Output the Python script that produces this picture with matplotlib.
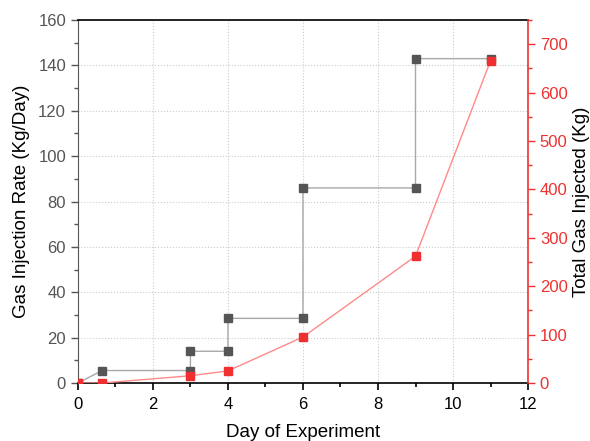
import matplotlib.pyplot as plt
from matplotlib.ticker import MultipleLocator

plt.rcParams['font.family'] = ['Liberation Sans', 'DejaVu Sans']

# Injection rate (step profile)
rate_day = [0, 0.65, 3, 3, 4, 4, 6, 6, 9, 9, 11]
rate = [0, 5.5, 5.5, 14, 14, 28.5, 28.5, 86, 86, 143, 143]

# Cumulative gas injected
total_day = [0, 0.65, 3, 4, 6, 9, 11]
total = [0, 0, 15, 25, 95, 262, 666]

red = '#f03030'

fig = plt.figure(figsize=(5.9, 4.41), dpi=100)
ax = fig.add_axes([0.132, 0.1315, 0.763, 0.823])
ax2 = ax.twinx()

ax.plot(rate_day, rate, '-', color='#a8a8a8', lw=1, zorder=3)
ax.plot(rate_day, rate, 's', color='#555555', ms=6, zorder=4)
ax2.plot(total_day, total, '-', color='#ff8a8a', lw=1, zorder=3)
ax2.plot(total_day, total, 's', color=red, ms=6, zorder=4)

ax.set_xlim(0, 12)
ax.set_ylim(0, 160)
ax2.set_ylim(0, 750)

ax.xaxis.set_major_locator(MultipleLocator(2))
ax.xaxis.set_minor_locator(MultipleLocator(1))
ax.yaxis.set_major_locator(MultipleLocator(20))
ax.yaxis.set_minor_locator(MultipleLocator(10))
ax2.yaxis.set_major_locator(MultipleLocator(100))
ax2.yaxis.set_minor_locator(MultipleLocator(50))

ax.grid(True, which='major', linestyle=':', color='#cccccc', lw=0.8)
ax.set_axisbelow(True)

ax.tick_params(axis='x', which='both', direction='out', colors='black', labelsize=12, pad=5)
ax.tick_params(axis='x', which='major', length=5, width=1.2)
ax.tick_params(axis='x', which='minor', length=3, width=1.2)
ax.tick_params(axis='y', which='both', direction='out', colors='#555555', labelsize=12)
ax.tick_params(axis='y', which='major', length=5, width=1)
ax.tick_params(axis='y', which='minor', length=3, width=1)
ax2.tick_params(axis='y', which='both', direction='out', colors=red, labelsize=12)
ax2.tick_params(axis='y', which='major', length=5, width=1)
ax2.tick_params(axis='y', which='minor', length=3, width=1)

ax.spines['top'].set_color('black')
ax.spines['bottom'].set_color('black')
ax.spines['top'].set_linewidth(1.2)
ax.spines['bottom'].set_linewidth(1.2)
ax.spines['left'].set_color('#555555')
ax2.spines['left'].set_visible(False)
ax2.spines['top'].set_visible(False)
ax2.spines['bottom'].set_visible(False)
ax2.spines['right'].set_color(red)
ax2.spines['right'].set_linewidth(1.2)
ax.spines['right'].set_visible(False)

ax.set_xlabel('Day of Experiment', fontsize=13.5, labelpad=9)
ax.set_ylabel('Gas Injection Rate (Kg/Day)', fontsize=13.5, labelpad=6)
ax2.set_ylabel('Total Gas Injected (Kg)', fontsize=13.5, color='black', labelpad=4)

fig.savefig('out.png', dpi=100)
